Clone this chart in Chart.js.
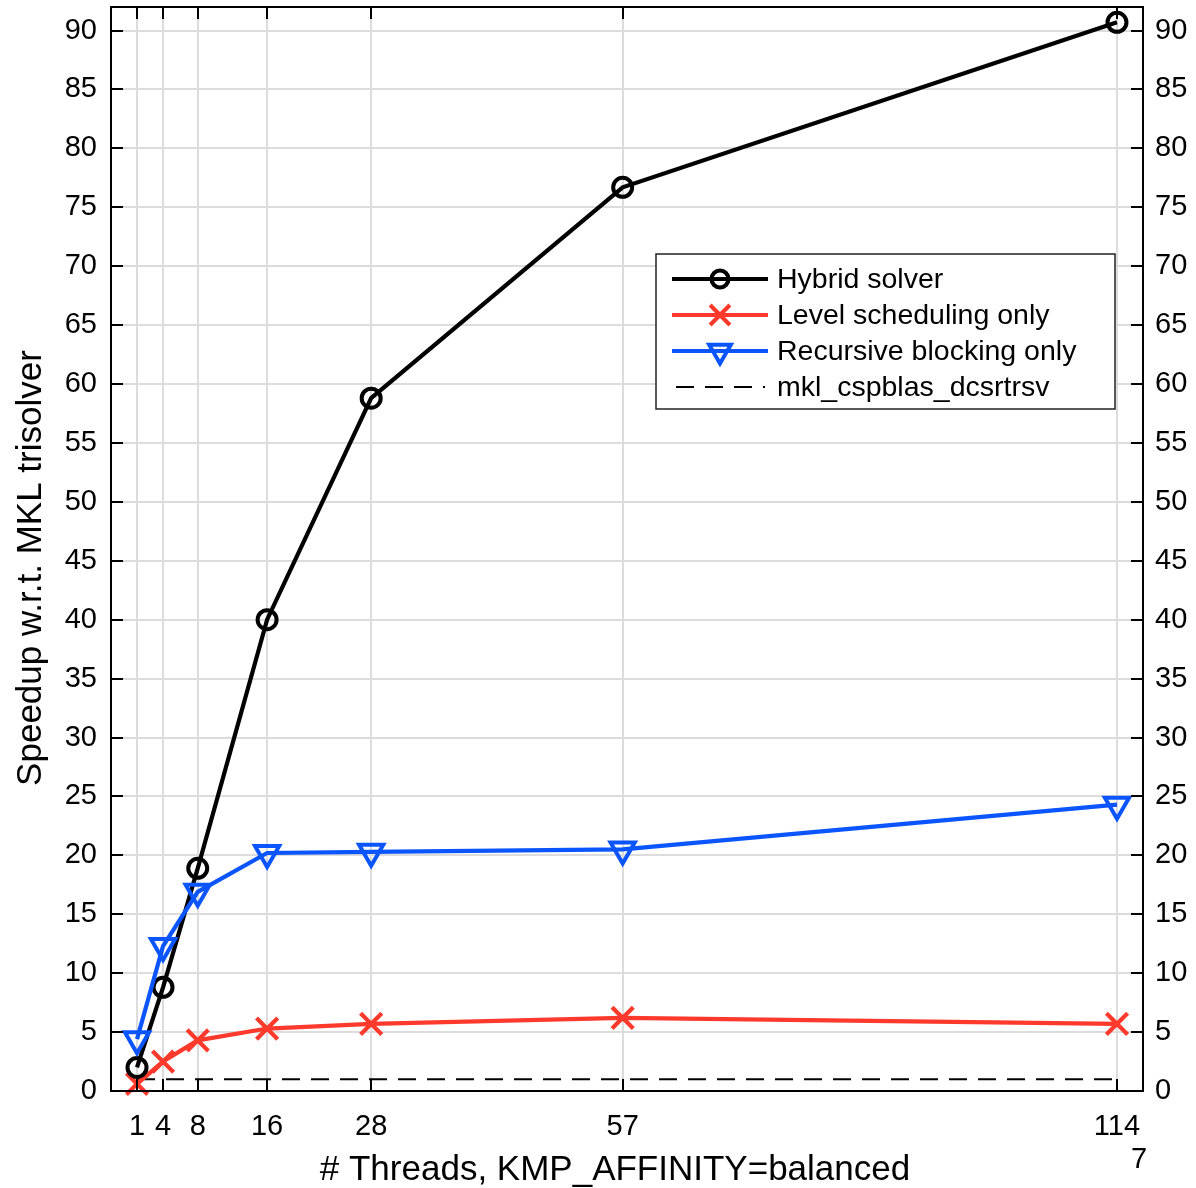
<!DOCTYPE html>
<html>
<head>
<meta charset="utf-8">
<script src="https://cdn.jsdelivr.net/npm/chart.js@4/dist/chart.umd.min.js"></script>
<style>
html,body{margin:0;padding:0;background:#fff;}
#wrap{width:1196px;height:1188px;position:relative;}
</style>
</head>
<body>
<div id="wrap"><canvas id="c" width="1196" height="1188"></canvas></div>
<script>
// ---- data ----
const threads = [1, 4, 8, 16, 28, 57, 114];
const hybrid = [2.0, 8.8, 18.9, 40.0, 58.8, 76.7, 90.7];
const levelSched = [0.6, 2.5, 4.3, 5.3, 5.7, 6.2, 5.7];
const recursive = [4.4, 12.3, 16.9, 20.2, 20.3, 20.5, 24.3];
const mklThreads = [1, 114];
const mklBaseline = [1.0, 1.0];
const xTickLabels = ['1', '4', '8', '16', '28', '57', '114'];
const yTicks = [0,5,10,15,20,25,30,35,40,45,50,55,60,65,70,75,80,85,90];
const seriesNames = ['Hybrid solver', 'Level scheduling only', 'Recursive blocking only', 'mkl_cspblas_dcsrtrsv'];
const xTitle = '# Threads, KMP_AFFINITY=balanced';
const yTitle = 'Speedup w.r.t. MKL trisolver';
const extraLabel = '7';

const FONT = '"Liberation Sans", Arial, Helvetica, sans-serif';
const RED = '#ff3a2c';
const BLUE = '#0a55ff';

function pts(xs, ys){ return xs.map((x,i)=>({x:x, y:ys[i]})); }

const framePlugin = {
  id: 'frame',
  afterDraw(chart){
    const ctx = chart.ctx;
    const a = chart.chartArea;
    const xs = chart.scales.x, ys = chart.scales.y;
    ctx.save();
    ctx.strokeStyle = '#000';
    ctx.lineWidth = 2;
    ctx.strokeRect(a.left, a.top, a.right - a.left, a.bottom - a.top);
    // inward ticks
    const tl = 12;
    ctx.beginPath();
    threads.forEach(v=>{
      const px = Math.round(xs.getPixelForValue(v));
      ctx.moveTo(px, a.bottom); ctx.lineTo(px, a.bottom - tl);
      ctx.moveTo(px, a.top); ctx.lineTo(px, a.top + tl);
    });
    yTicks.forEach(v=>{
      const py = Math.round(ys.getPixelForValue(v));
      ctx.moveTo(a.left, py); ctx.lineTo(a.left + tl, py);
      ctx.moveTo(a.right, py); ctx.lineTo(a.right - tl, py);
    });
    ctx.stroke();

    // titles
    ctx.fillStyle = '#000';
    ctx.font = '35px ' + FONT;
    ctx.textAlign = 'center';
    ctx.textBaseline = 'middle';
    ctx.fillText(xTitle, 615, 1170);
    ctx.save();
    ctx.translate(31, 568);
    ctx.rotate(-Math.PI/2);
    ctx.fillText(yTitle, 0, 0);
    ctx.restore();
    ctx.font = '29px ' + FONT;
    ctx.fillText(extraLabel, 1139, 1160);

    // legend
    const lx = 656, ly = 254, lw = 459, lh = 155;
    ctx.fillStyle = '#fff';
    ctx.fillRect(lx, ly, lw, lh);
    ctx.strokeStyle = '#222';
    ctx.lineWidth = 1.5;
    ctx.strokeRect(lx, ly, lw, lh);
    const rows = [279, 315, 351, 387];
    chart.data.datasets.forEach((ds, i)=>{
      const y = rows[i];
      ctx.save();
      ctx.strokeStyle = ds.borderColor;
      ctx.lineWidth = ds.borderWidth;
      ctx.setLineDash(ds.borderDash || []);
      ctx.beginPath();
      if (ds.borderDash) { ctx.moveTo(676, y); ctx.lineTo(765, y); }
      else { ctx.moveTo(672, y); ctx.lineTo(768, y); }
      ctx.stroke();
      ctx.setLineDash([]);
      if (ds.pointRadius > 0) {
        ctx.fillStyle = 'rgba(0,0,0,0)';
        ctx.strokeStyle = ds.borderColor;
        ctx.lineWidth = ds.pointBorderWidth;
        const r = ds.legendRadius || ds.pointRadius;
        Chart.helpers.drawPoint(ctx, {
          pointStyle: ds.pointStyle,
          rotation: ds.pointRotation || 0,
          radius: r,
          borderWidth: ds.pointBorderWidth
        }, 720, y);
      }
      ctx.restore();
      ctx.fillStyle = '#000';
      ctx.font = '28.5px ' + FONT;
      ctx.textAlign = 'left';
      ctx.textBaseline = 'middle';
      ctx.fillText(seriesNames[i], 777, y + 1);
    });
    ctx.restore();
  }
};

const tickFont = { family: FONT, size: 29 };

new Chart(document.getElementById('c'), {
  type: 'line',
  data: {
    datasets: [
      { label: seriesNames[0], data: pts(threads, hybrid), borderColor: '#000', borderWidth: 4.2,
        pointStyle: 'circle', pointRadius: 9.5, pointBorderWidth: 4, pointBackgroundColor: 'rgba(0,0,0,0)',
        backgroundColor: 'rgba(0,0,0,0)', tension: 0, order: 1, legendRadius: 8.5, clip: false },
      { label: seriesNames[1], data: pts(threads, levelSched), borderColor: RED, borderWidth: 4.2,
        pointStyle: 'crossRot', pointRadius: 15, pointBorderWidth: 4.2, pointBackgroundColor: 'rgba(0,0,0,0)',
        backgroundColor: 'rgba(0,0,0,0)', tension: 0, order: 2, legendRadius: 14, clip: false },
      { label: seriesNames[2], data: pts(threads, recursive), borderColor: BLUE, borderWidth: 4.2,
        pointStyle: 'triangle', pointRotation: 180, rotation: 180, pointRadius: 14, pointBorderWidth: 4,
        pointBackgroundColor: 'rgba(0,0,0,0)', backgroundColor: 'rgba(0,0,0,0)', tension: 0, order: 0, legendRadius: 12.5, clip: false },
      { label: seriesNames[3], data: pts(mklThreads, mklBaseline), borderColor: '#000', borderWidth: 2,
        borderDash: [18, 11], pointRadius: 0, pointBorderWidth: 0, backgroundColor: 'rgba(0,0,0,0)', tension: 0, order: 3 }
    ]
  },
  options: {
    responsive: false,
    animation: false,
    devicePixelRatio: 1,
    layout: { autoPadding: false, padding: { top: 7, left: 0, right: 0, bottom: 0 } },
    plugins: { legend: { display: false }, tooltip: { enabled: false }, title: { display: false } },
    scales: {
      x: {
        type: 'linear', min: -2, max: 117,
        afterBuildTicks: s => { s.ticks = threads.map(v => ({ value: v })); },
        afterFit: s => { s.height = 97; s.paddingLeft = 0; s.paddingRight = 0; },
        grid: { color: '#dcdcdc', lineWidth: 2, drawTicks: false },
        border: { display: false },
        ticks: { font: tickFont, color: '#000', padding: 19, maxRotation: 0, autoSkip: false,
          callback: (v, i) => xTickLabels[i] }
      },
      y: {
        type: 'linear', position: 'left', min: 0, max: 92,
        afterBuildTicks: s => { s.ticks = yTicks.map(v => ({ value: v })); },
        afterFit: s => { s.width = 111; s.paddingTop = 0; s.paddingBottom = 0; },
        grid: { color: '#dcdcdc', lineWidth: 2, drawTicks: false },
        border: { display: false },
        ticks: { font: tickFont, color: '#000', padding: 14, autoSkip: false }
      },
      y2: {
        type: 'linear', position: 'right', min: 0, max: 92,
        afterBuildTicks: s => { s.ticks = yTicks.map(v => ({ value: v })); },
        afterFit: s => { s.width = 53; s.paddingTop = 0; s.paddingBottom = 0; },
        grid: { display: false, drawTicks: false },
        border: { display: false },
        ticks: { font: tickFont, color: '#000', padding: 12, autoSkip: false }
      }
    }
  },
  plugins: [framePlugin]
});
</script>
</body>
</html>
